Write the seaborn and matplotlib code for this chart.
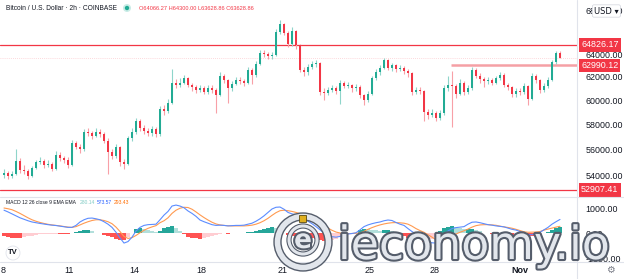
import numpy as np
import pandas as pd
import matplotlib
matplotlib.use('Agg')
import matplotlib.pyplot as plt
import seaborn as sns
from matplotlib.patches import Circle, Rectangle
from matplotlib.lines import Line2D
import matplotlib.patheffects as pe
from matplotlib.ticker import NullLocator

# ---------------- data ----------------
first_open = 54000
closes = [
    54200, 53950, 54100, 55100, 54400, 54300, 53950, 54600, 55000, 55100,
    54800, 54900, 54500, 55600, 55300, 55200, 54800, 56500, 56200, 56000,
    57400, 57300, 57100, 57400, 57200, 56700, 55800, 55500, 56200, 55000,
    54900, 56900, 57400, 58300, 57700, 57500, 57300, 57600, 57200, 59300,
    59100, 59800, 61500, 61300, 61500, 61900, 61300, 61100, 60900, 61000,
    60700, 61000, 60900, 60450, 62100, 61700, 61000, 61400, 61750, 61600,
    61500, 62600, 62200, 63100, 64100, 64000, 63800, 63900, 66000, 66800,
    65900, 64900, 66100, 64800, 62600, 62400, 62900, 63100, 63200, 60700,
    60600, 60900, 61000, 60800, 61500, 61200, 61300, 61000, 61100, 60400,
    60000, 60500, 61900, 62400, 62800, 63500, 62800, 63000, 62700, 62800,
    62500, 62300, 60700, 60900, 60800, 59000, 58800, 58950, 58500, 58900,
    61000, 61300, 61200, 60500, 61500, 60700, 61000, 62600, 62100, 61800,
    61600, 61700, 61500, 61900, 62200, 61300, 61100, 60500, 60800, 60700,
    61200, 60100, 62100, 61700, 60900, 61200, 61700, 63300, 64066.27, 63628.86,
]
highs = [
    54450, 54350, 54300, 56000, 55300, 54800, 54500, 54750, 55200, 55400,
    55250, 55150, 55050, 55900, 55800, 55500, 55400, 56750, 56700, 56400,
    57650, 57700, 57500, 57700, 57600, 57350, 56900, 56000, 56450, 56300,
    55250, 57100, 57700, 58500, 58450, 57950, 57700, 57900, 57750, 59500,
    59600, 60100, 62700, 61800, 61900, 62200, 62000, 61500, 61300, 61300,
    61200, 61300, 61250, 61050, 62400, 62250, 61850, 61650, 62000, 61950,
    61800, 62850, 62750, 63400, 64350, 64400, 64200, 64150, 66300, 67100,
    66900, 66100, 66450, 66200, 64900, 62900, 63100, 63350, 63450, 63300,
    61000, 61100, 61250, 61200, 61700, 61650, 61550, 61400, 61350, 61250,
    60550, 60750, 62100, 62650, 63000, 63700, 63600, 63250, 63150, 63050,
    62950, 62700, 62400, 61150, 61100, 60900, 59300, 59300, 59100, 59150,
    61250, 62100, 62500, 61400, 61800, 61650, 61300, 62900, 62800, 62300,
    62000, 61950, 61900, 62100, 62450, 62300, 61500, 61200, 61050, 61000,
    61450, 61300, 62350, 62250, 61800, 61450, 61950, 63500, 64300, 64300.00,
]
lows = [
    53800, 53750, 53800, 54000, 54200, 54100, 53750, 53850, 54450, 54850,
    54600, 54650, 54300, 54400, 55100, 54950, 54550, 54700, 56000, 55700,
    55900, 57100, 56800, 56950, 57000, 56500, 54100, 55250, 55350, 54700,
    54450, 54800, 56700, 57200, 57500, 57250, 57050, 57100, 56950, 57100,
    58800, 58950, 59700, 61000, 61100, 61350, 61100, 60800, 60650, 60700,
    60500, 60550, 60650, 58950, 60350, 61450, 59800, 60800, 61250, 61350,
    61200, 61400, 61400, 62000, 63000, 63750, 63600, 63600, 63800, 65800,
    65700, 64600, 64700, 64500, 62400, 62100, 62200, 62700, 62900, 60400,
    60000, 60400, 60700, 60500, 59700, 61000, 61000, 60700, 60800, 60200,
    59600, 59850, 60400, 61700, 62200, 62650, 62600, 62500, 62450, 62500,
    62250, 62000, 60450, 60500, 60500, 58300, 58400, 58600, 58250, 58350,
    58800, 60800, 57800, 60200, 60400, 60450, 60500, 60900, 61900, 61500,
    61100, 61400, 61250, 61350, 61750, 61100, 60850, 60250, 60300, 60450,
    60550, 59600, 60000, 61500, 60650, 60700, 61000, 61600, 63100, 63628.86,
]
macd = [
    950, 880, 800, 720, 640, 580, 520, 470, 440, 410,
    385, 360, 340, 325, 300, 275, 250, 250, 330, 470,
    560, 620, 630, 600, 560, 480, 380, 250, 50, -180,
    -390, -330, -150, 100, 250, 330, 360, 370, 380, 560,
    750, 900, 1120, 1160, 1120, 1050, 920, 820, 700, 550,
    480, 420, 360, 330, 340, 330, 310, 320, 330, 330,
    340, 380, 420, 500, 600, 720, 860, 1000, 1070, 1080,
    990, 860, 800, 760, 700, 600, 500, 400, 280, 150,
    20, -80, -130, -150, -120, -60, -20, 0, 30, 150,
    280, 350, 400, 440, 470, 520, 550, 530, 450, 380,
    330, 200, 80, -20, -120, -280, -350, -380, -390, -200,
    -40, 100, 200, 240, 260, 280, 380, 460, 470, 440,
    400, 360, 340, 310, 290, 270, 220, 170, 140, 80,
    20, -40, -50, 0, 50, 150, 250, 380, 480, 573.57,
]
signal = [
    1040, 1010, 970, 900, 820, 730, 640, 560, 500, 450,
    410, 375, 350, 330, 310, 285, 260, 250, 280, 350,
    420, 480, 530, 560, 560, 530, 480, 400, 260, 80,
    -120, -200, -170, -80, 30, 130, 210, 270, 320, 440,
    520, 640, 820, 950, 1030, 1070, 1060, 990, 880, 760,
    650, 550, 460, 390, 350, 330, 315, 310, 310, 310,
    310, 320, 340, 380, 440, 520, 620, 740, 850, 930,
    950, 930, 900, 860, 810, 750, 680, 600, 510, 420,
    320, 220, 130, 60, 20, 0, -5, 0, 10, 20,
    90, 170, 240, 300, 350, 390, 420, 440, 445, 435,
    420, 380, 300, 200, 120, 50, -50, -150, -250, -290,
    -250, -180, -100, -20, 50, 110, 180, 260, 320, 350,
    360, 360, 350, 335, 300, 270, 245, 215, 170, 120,
    70, 50, 55, 60, 80, 140, 180, 220, 260, 293.43,
]
levels_main = [64826.17, 52907.41]
level_short = 62990.12
price_ticks = [54000, 56000, 58000, 60000, 62000, 64000, 68000]
macd_ticks = [1000, 0, -1000]
date_labels = ['8', '11', '14', '18', '21', '25', '28', 'Nov']
date_pos = [-0.25, 16.25, 32.5, 49.25, 69.75, 91.5, 107.75, 129]
title = 'Bitcoin / U.S. Dollar \u00b7 2h \u00b7 COINBASE'

# ---------------- derived ----------------
n = len(closes)
idx = np.arange(n)
opens = [first_open] + closes[:-1]
df = pd.DataFrame({'i': idx, 'open': opens, 'high': highs, 'low': lows,
                   'close': closes, 'macd': macd, 'signal': signal})
df['hist'] = df['macd'] - df['signal']
df['up'] = df['close'] >= df['open']

UP, DN = '#22ab94', '#f23645'
UPW, DNW = '#8fd5ca', '#f8a0a7'

sns.set_theme(style='white')
plt.rcParams['font.family'] = ['Liberation Sans', 'DejaVu Sans']
plt.rcParams['axes.unicode_minus'] = False

W, H = 624, 279
fig = plt.figure(figsize=(W / 100, H / 100), dpi=100)
fig.patch.set_facecolor('white')

def fx(px):
    return px / W

def fy(py):
    return 1 - py / H

ax = fig.add_axes([0, fy(196), fx(577), fy(0) - fy(196)])
axm = fig.add_axes([0, fy(262), fx(577), fy(197) - fy(262)])
for a in (ax, axm):
    a.set_facecolor('white')
    for s in a.spines.values():
        s.set_visible(False)
    a.set_xlim(-1, 143.25)

# ---- candles ----
ax.set_yscale('log')
ax.vlines(df['i'], df['low'], df['high'],
          colors=np.where(df['up'], UPW, DNW), linewidth=0.8, zorder=2)
body_bottom = np.minimum(df['open'], df['close'])
body_h = np.maximum(np.abs(df['close'] - df['open']), 30)
ax.bar(df['i'], body_h, bottom=body_bottom, width=0.66,
       color=np.where(df['up'], UP, DN), linewidth=0, zorder=3)
ax.set_ylim(52463, 69045)

for lv in levels_main:
    ax.axhline(lv, color='#f23645', lw=0.9, zorder=1)
ax.hlines(level_short, 111.75, 143.25, color='#f5a0a5', lw=1.8, zorder=1)
ax.axhline(closes[-1], color='#f23645', lw=0.6, ls=(0, (1, 1.5)), alpha=0.25, zorder=1)

ax.yaxis.tick_right()
ax.set_yticks(price_ticks)
ax.yaxis.set_minor_locator(NullLocator())
ax.set_yticklabels([f'{v:.2f}' for v in price_ticks])
ax.tick_params(axis='y', length=0, pad=6, labelsize=6.4, colors='#131722')
ax.tick_params(axis='x', bottom=False, labelbottom=False)
ax.grid(False)

for lv in levels_main + [level_short]:
    ax.text(581 / 577, lv, f'{lv:.2f}', transform=ax.get_yaxis_transform(),
            ha='left', va='center', fontsize=6.4, color='white', clip_on=False,
            bbox=dict(boxstyle='square,pad=0.25', fc='#f23645', ec='none'), zorder=5)

# ---- MACD ----
hist = df['hist'].values
prev = np.concatenate([[hist[0]], hist[:-1]])
hcol = np.where(hist >= 0, np.where(hist >= prev, '#26a69a', '#b2dfdb'),
                np.where(hist <= prev, '#ff5252', '#ffcdd2'))
axm.bar(df['i'], hist, width=0.8, color=hcol, linewidth=0, zorder=1)
sns.lineplot(data=df, x='i', y='macd', ax=axm, color='#5b8cff', lw=0.8, zorder=3)
sns.lineplot(data=df, x='i', y='signal', ax=axm, color='#ff9a50', lw=0.8, zorder=2)
axm.set_ylim(-1163, 1489)
axm.set_xlabel('')
axm.set_ylabel('')
axm.yaxis.tick_right()
axm.set_yticks(macd_ticks)
axm.set_yticklabels([f'{v:.2f}' for v in macd_ticks])
axm.tick_params(axis='y', length=0, pad=6, labelsize=6.4, colors='#131722')
axm.set_xticks(date_pos)
axm.set_xticklabels(date_labels)
axm.tick_params(axis='x', length=0, pad=3, labelsize=6.5, colors='#131722')
for t in axm.get_xticklabels():
    if t.get_text() == 'Nov':
        t.set_fontweight('bold')
axm.grid(False)

# ---- separators ----
for yy in (196.5, 262):
    fig.add_artist(Line2D([0, 1], [fy(yy), fy(yy)], transform=fig.transFigure,
                          color='#e0e3eb', lw=0.8))
fig.add_artist(Line2D([fx(577), fx(577)], [0, 1], transform=fig.transFigure,
                      color='#e0e3eb', lw=0.8))

# ---- header / legends ----
fig.text(fx(6), fy(8), title, fontsize=4.8, color='#131722', va='center', ha='left')
fig.add_artist(Circle((1.27, (H - 8) / 100), 0.04, transform=fig.dpi_scale_trans,
                      fc='#c9ece6', ec='none'))
fig.add_artist(Circle((1.27, (H - 8) / 100), 0.022, transform=fig.dpi_scale_trans,
                      fc='#22ab94', ec='none'))
ohlc = (f'O{opens[-1]:.2f} H{highs[-1]:.2f} L{lows[-1]:.2f} C{closes[-1]:.2f}')
fig.text(fx(139), fy(8), ohlc, fontsize=4.1, color='#f23645', va='center', ha='left')

fig.text(fx(6), fy(203), 'MACD 12 26 close 9 EMA EMA', fontsize=3.6,
         color='#131722', va='center', ha='left')
fig.text(fx(80), fy(203), f'{hist[-1]:.2f}', fontsize=3.6, color='#80cbc4', va='center')
fig.text(fx(97), fy(203), f'{macd[-1]:.2f}', fontsize=3.6, color='#2962ff', va='center')
fig.text(fx(114), fy(203), f'{signal[-1]:.2f}', fontsize=3.6, color='#ff6d00', va='center')

fig.text(fx(594), fy(11), 'USD \u25be', fontsize=6, color='#131722', va='center',
         ha='left', family='DejaVu Sans',
         bbox=dict(boxstyle='round,pad=0.2', fc='white', ec='#d1d4dc', lw=0.5))

# TV logo & gear
fig.add_artist(Circle((0.13, (H - 253) / 100), 0.07, transform=fig.dpi_scale_trans,
                      fc='white', ec='#e0e3eb', lw=0.6))
fig.text(fx(13), fy(253), 'TV', fontsize=5.5, fontweight='bold', color='#131722',
         ha='center', va='center')
fig.text(fx(610), fy(270), '\u2699', fontsize=7, color='#787b86', ha='center',
         va='center', family='DejaVu Sans')

# ---- watermark ----
chrome = [pe.withStroke(linewidth=3.0, foreground='#555d6b')]
fig.text(fx(338), fy(259), 'ieconomy.io', fontsize=33, family='DejaVu Sans',
         color='#e2e6ec', va='baseline', ha='left', path_effects=chrome, zorder=10)
ring = Circle((3.03, (H - 242) / 100), 0.255, transform=fig.dpi_scale_trans,
              fill=False, ec='#e2e6ec', lw=4.0, zorder=10,
              path_effects=[pe.withStroke(linewidth=6.0, foreground='#555d6b')])
fig.add_artist(ring)
ring2 = Circle((3.03, (H - 240) / 100), 0.14, transform=fig.dpi_scale_trans,
               fill=False, ec='#e2e6ec', lw=2.2, zorder=10,
               path_effects=[pe.withStroke(linewidth=3.8, foreground='#555d6b')])
fig.add_artist(ring2)
fig.text(fx(303), fy(241), 'e', fontsize=19, fontweight='bold', family='DejaVu Sans',
         color='#e2e6ec', ha='center', va='center', path_effects=chrome, zorder=11)
fig.add_artist(Rectangle((2.99, (H - 222) / 100), 0.07, 0.07, transform=fig.dpi_scale_trans,
                         fc='#e0b020', ec='#5a4a10', lw=0.6, zorder=11))

fig.savefig('out.png', dpi=100, facecolor='white')
